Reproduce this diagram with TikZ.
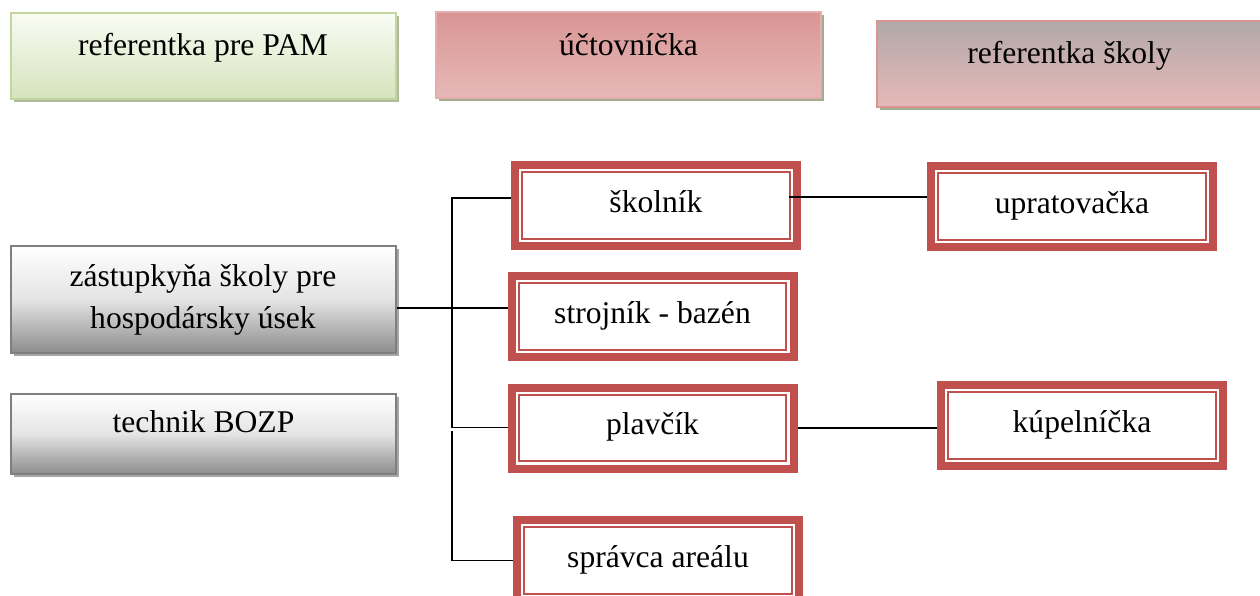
\documentclass[tikz,border=0pt]{standalone}
\usepackage{fontspec}
\setmainfont{Liberation Serif}
\usetikzlibrary{shadows}

\definecolor{boxred}{HTML}{C0504D}
\definecolor{pamtop}{HTML}{FAFCF5}
\definecolor{pambot}{HTML}{D6E3BC}
\definecolor{pamedge}{HTML}{C3D69B}
\definecolor{pinktop}{HTML}{D99594}
\definecolor{pinkbot}{HTML}{E6B9B8}
\definecolor{pinkedge}{HTML}{E3AEAD}
\definecolor{greytop}{HTML}{B1A9A8}
\definecolor{greybot}{HTML}{8C8C8C}
\definecolor{greymid}{HTML}{E4E4E4}
\definecolor{greyedge}{HTML}{7F7F7F}
\definecolor{olivesh}{HTML}{A3AD8E}
\definecolor{greysh}{HTML}{A6A6A6}

\begin{document}
\begin{tikzpicture}[x=0.75pt,y=-0.75pt,
	every node/.style={font=\fontsize{23.7}{31.5}\selectfont, align=center, inner sep=0pt},
	topbox/.style={line width=1.5pt, minimum width=288.75pt, minimum height=64.5pt,
		text height=16pt, text depth=16pt,
		general shadow={fill=olivesh, shadow xshift=2.5pt, shadow yshift=-2.5pt}},
	greybox/.style={draw=greyedge, line width=1.5pt, minimum width=288.75pt,
		top color=white, bottom color=greybot, middle color=greymid,
		general shadow={fill=greysh, shadow xshift=2.5pt, shadow yshift=-2.5pt}},
	redbox/.style={draw=boxred, line width=6pt, fill=white,
		minimum width=211.5pt, minimum height=60.75pt,
		text height=16.6pt, text depth=6.6pt,
		path picture={\draw[boxred, line width=1.5pt]
			([shift={(5.4pt,5.4pt)}]path picture bounding box.south west) rectangle
			([shift={(-5.4pt,-5.4pt)}]path picture bounding box.north east);}},
	link/.style={line width=1.1pt, black}
	]
	
	\useasboundingbox (0,0) rectangle (1260,596);
	
	% top row
	\node[topbox, draw=pamedge, top color=pamtop, bottom color=pambot, general shadow={fill=olivesh!85!white, shadow xshift=2.5pt, shadow yshift=-2.5pt}] (pam) at (203,55.5) {referentka pre PAM};
	\node[topbox, draw=pinkedge, top color=pinktop, bottom color=pinkbot] (uct) at (628.5,55) {účtovníčka};
	\node[topbox, draw=pinktop, top color=greytop, bottom color=pinkbot] (skoly) at (1069.5,63.5) {referentka školy};
	
	% left column
	\node[greybox, minimum height=80.25pt] (zast) at (203,299.5) {zástupkyňa školy pre\\hospodársky úsek};
	\node[greybox, minimum height=60pt, text height=16.6pt, text depth=19.6pt] (bozp) at (203.5,434) {technik BOZP};
	
	% red boxes
	\node[redbox] (skolnik) at (656,205.5) {školník};
	\node[redbox] (strojnik) at (652.5,316.5) {strojník - bazén};
	\node[redbox] (plavcik) at (652.5,428) {plavčík};
	\node[redbox] (spravca) at (658,560.5) {správca areálu};
	\node[redbox] (upratovacka) at (1072,206.5) {upratovačka};
	\node[redbox] (kupelnicka) at (1082,425.5) {kúpelníčka};
	
	% connectors
	\coordinate (j1) at (452,198);
	\coordinate (j2) at (452,308);
	\coordinate (j3) at (452,427.5);
	\coordinate (j4) at (452,431);
	\coordinate (s1) at (789,197);
	
	\draw[link] (skolnik.west |- j1) -- (j1) -- (j3) -- (plavcik.west |- j3);
	\draw[link] (zast.east |- j2) -- (strojnik.west |- j2);
	\draw[link] (j4) |- (spravca.west);
	\draw[link] (s1) -- (upratovacka.west |- s1);
	\draw[link] (plavcik.east) -- (kupelnicka.west |- plavcik.east);
	
\end{tikzpicture}
\end{document}
